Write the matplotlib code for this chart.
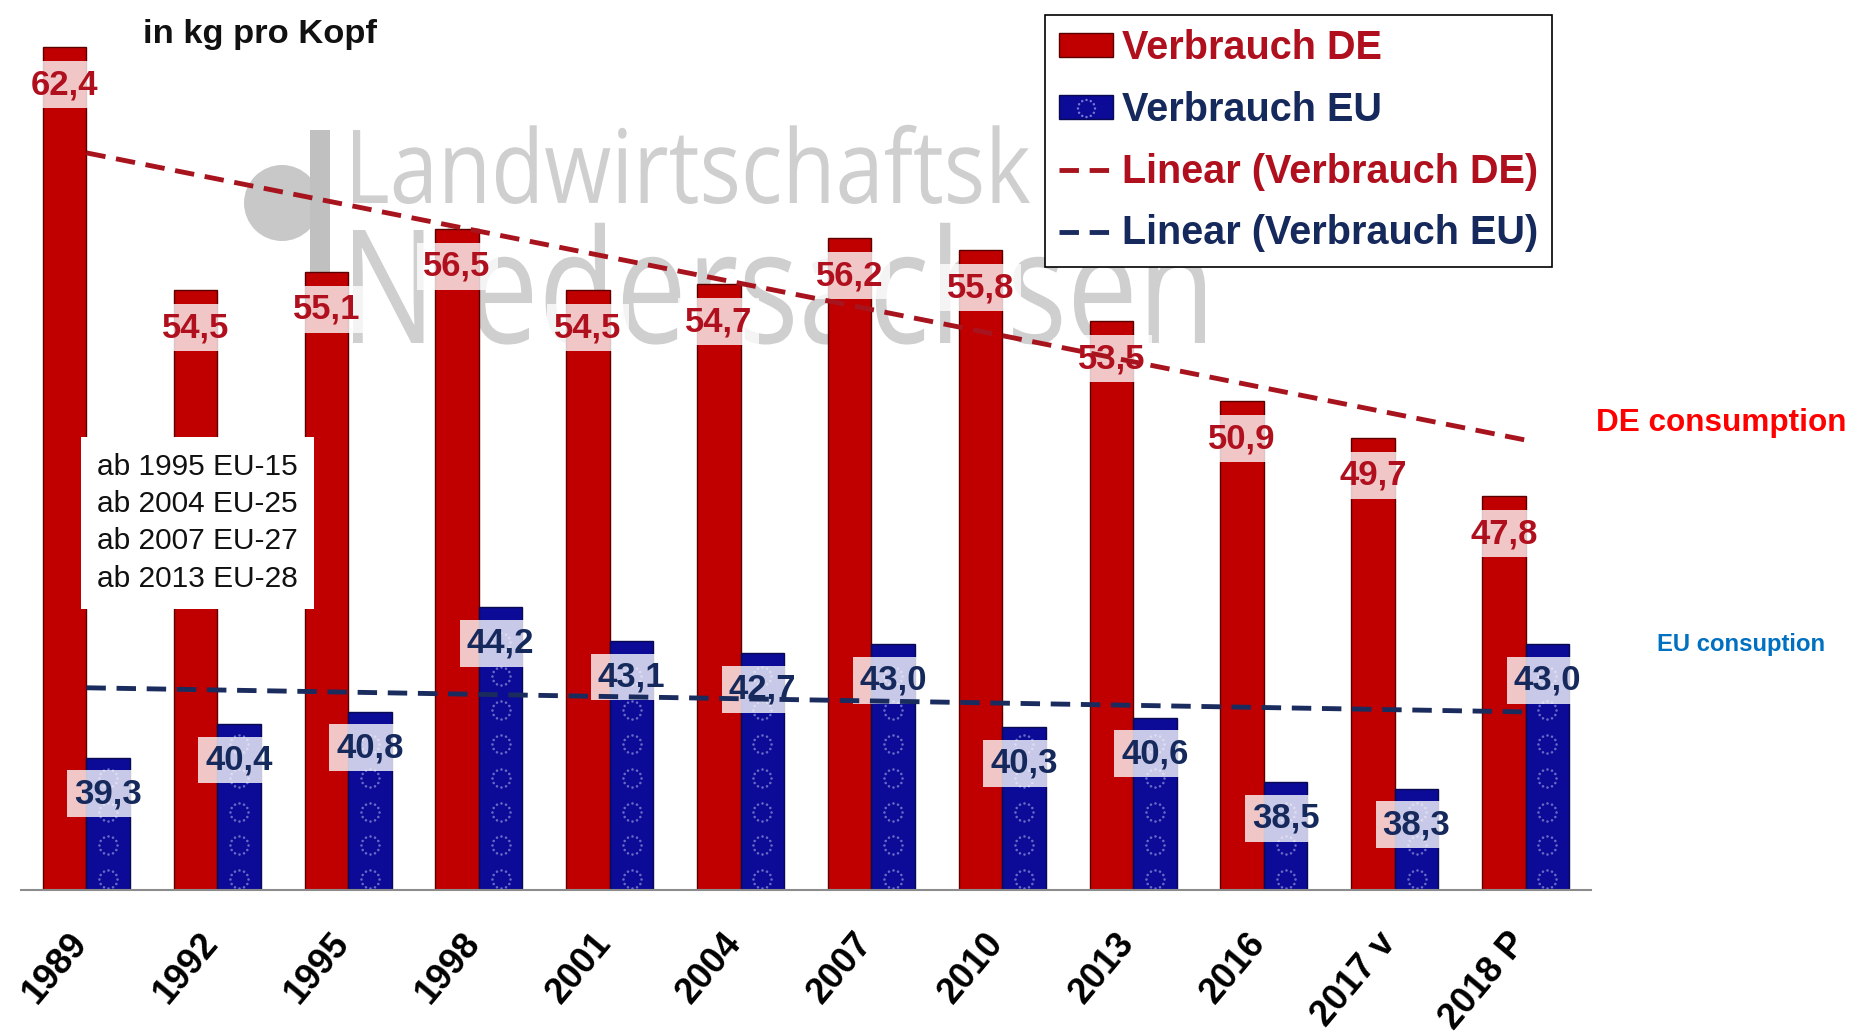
import numpy as np
import matplotlib
matplotlib.use('Agg')
import matplotlib.pyplot as plt
import matplotlib.path as mpath
import matplotlib.patches as mpatches
from matplotlib.lines import Line2D
from matplotlib.textpath import TextPath
from matplotlib.font_manager import FontProperties
from matplotlib.transforms import Affine2D

# data (kg per head)
years = ['1989', '1992', '1995', '1998', '2001', '2004', '2007', '2010',
         '2013', '2016', '2017 v', '2018 P']
de_kg = [62.4, 54.5, 55.1, 56.5, 54.5, 54.7, 56.2, 55.8, 53.5, 50.9, 49.7, 47.8]
eu_kg = [39.3, 40.4, 40.8, 44.2, 43.1, 42.7, 43.0, 40.3, 40.6, 38.5, 38.3, 43.0]
eu_steps = ['ab 1995 EU-15', 'ab 2004 EU-25', 'ab 2007 EU-27', 'ab 2013 EU-28']
legend_labels = ['Verbrauch DE', 'Verbrauch EU',
                 'Linear (Verbrauch DE)', 'Linear (Verbrauch EU)']

DE_BAR = '#c00000'
EU_BAR = '#0b0b98'
DE_TXT = '#b0101e'
EU_TXT = '#16295c'
DE_TREND = '#a8141e'
EU_TREND = '#1a2b5e'
WM_GREY = '#cfcfcf'

plt.rcParams['font.family'] = ['Liberation Sans', 'DejaVu Sans']

W, H = 1852, 1034
fig = plt.figure(figsize=(W / 100, H / 100), dpi=100)
ax = fig.add_axes([21 / W, 144 / H, 1570 / W, 890 / H])

# watermark logo (pixel placement, drawn behind the bars)
wm_prop = FontProperties(family=['Open Sans', 'DejaVu Sans'], weight='normal')


def watermark(txt, left, base, width, cap):
    path = TextPath((0, 0), txt, size=100, prop=wm_prop)
    ext = path.get_extents()
    cap_h = TextPath((0, 0), txt[0], size=100, prop=wm_prop).get_extents().height
    tr = (Affine2D().translate(-ext.x0, 0)
          .scale(width / ext.width, cap / cap_h)
          .translate(left, H - base))
    ax.add_patch(mpatches.PathPatch(path, transform=tr, fc=WM_GREY, ec='none',
                                    zorder=0.5, clip_on=False))


# the rest of the first word is hidden behind the legend box
watermark('Landwirtschaftsk', 353, 203, 677, 73)
watermark('Niedersachsen', 353, 343, 852, 113)
ax.add_patch(mpatches.Circle((282, H - 203), 38, transform=Affine2D(), fc='#c8c8c8',
                             ec='none', zorder=0.5, clip_on=False))
ax.add_patch(mpatches.Rectangle((310, H - 278), 20, 148, transform=Affine2D(),
                                fc='#c0c0c0', ec='none', zorder=0.5, clip_on=False))

x = np.arange(len(years))
w = 0.333

ax.bar(x - w / 2, de_kg, w, color=DE_BAR, edgecolor='#5a0000', linewidth=1, zorder=2)
ax.bar(x + w / 2, eu_kg, w, color=EU_BAR, edgecolor='#0a0a50', linewidth=1, zorder=2)

# ring of 12 dots, like the EU flag, as fill pattern of the EU bars
ang = np.linspace(0, 2 * np.pi, 12, endpoint=False)
ring = mpath.Path.make_compound_path(
    *[mpath.Path.circle((np.cos(a), np.sin(a)), 0.14) for a in ang])
for xi, v in zip(x, eu_kg):
    ys = np.arange(35.35, v - 0.3, 1.1)
    ax.scatter(np.full(len(ys), xi + w / 2), ys, marker=ring, s=220,
               c='#6a6ac4', linewidths=0, zorder=2.5)

# value labels
box_kw = dict(boxstyle='square,pad=0.2', fc='white', ec='none', alpha=0.78)
for xi, v in zip(x, de_kg):
    ax.annotate(f'{v:.1f}'.replace('.', ','), (xi - w / 2, v), xytext=(0, -27),
                textcoords='offset points', ha='center', va='center', fontsize=25,
                fontweight='bold', color=DE_TXT, bbox=box_kw, zorder=4)
for xi, v in zip(x, eu_kg):
    ax.annotate(f'{v:.1f}'.replace('.', ','), (xi + w / 2, v), xytext=(0, -26),
                textcoords='offset points', ha='center', va='center', fontsize=25,
                fontweight='bold', color=EU_TXT, bbox=box_kw, zorder=4)

# linear trend lines
for vals, col in ((de_kg, DE_TREND), (eu_kg, EU_TREND)):
    k, b = np.polyfit(x, vals, 1)
    ends = x[[0, -1]]
    ax.plot(ends, k * ends + b, ls=(0, (4, 2.2)), lw=3.5, color=col, zorder=5)

ax.text(0.85, 46.94, '\n'.join(eu_steps), ha='center', va='center', fontsize=21.5,
        color='#111111', linespacing=1.42,
        bbox=dict(boxstyle='square,pad=0.55', fc='white', ec='none'), zorder=3)

ax.set_xlim(-0.5, 11.5)
ax.set_ylim(35, 63.94)
# labels sit a little left of the group centre, as in the original
ax.set_xticks(x - 0.14)
ax.set_xticklabels(years, rotation=50, ha='right', va='top', rotation_mode='anchor',
                   fontsize=26, fontweight='bold')
ax.tick_params(axis='x', length=0, pad=26)
ax.tick_params(axis='y', left=False, labelleft=False)
for s in ['top', 'right', 'left']:
    ax.spines[s].set_visible(False)
ax.spines['bottom'].set_color('#8c8c8c')
ax.spines['bottom'].set_linewidth(1.5)

# legend
h_de = mpatches.Patch(facecolor=DE_BAR, edgecolor='#5a0000', linewidth=1)
h_eu = (mpatches.Patch(facecolor=EU_BAR, edgecolor='#0a0a50', linewidth=1),
        Line2D([], [], ls='none', marker=ring, markersize=14, color='#7a7ad0',
               markeredgewidth=0))
h_de_tr = Line2D([], [], ls=(0, (4, 2.2)), lw=3.5, color=DE_TREND)
h_eu_tr = Line2D([], [], ls=(0, (4, 2.2)), lw=3.5, color=EU_TREND)
leg = ax.legend([h_de, h_eu, h_de_tr, h_eu_tr], legend_labels, loc='upper left',
                bbox_to_anchor=(1045 / W, 1 - 15 / H), bbox_transform=fig.transFigure,
                prop=FontProperties(family=['Liberation Sans', 'DejaVu Sans'],
                                    weight='bold', size=28.5),
                frameon=True, fancybox=False, edgecolor='black', framealpha=1,
                borderpad=0.36, labelspacing=0.6, handlelength=1.36,
                handleheight=0.55, handletextpad=0.22, borderaxespad=0)
leg.get_frame().set_linewidth(1.2)
leg.set_zorder(6)
for t, c in zip(leg.get_texts(), [DE_TXT, EU_TXT, DE_TXT, EU_TXT]):
    t.set_color(c)

fig.text(143 / W, 1 - 43 / H, 'in kg pro Kopf', fontsize=24.8, fontweight='bold',
         color='#111111', va='baseline')
fig.text(1721 / W, 1 - 423 / H, 'DE consumption', fontsize=22.7, fontweight='bold',
         color='#ff0000', ha='center', va='center')
fig.text(1741 / W, 1 - 645 / H, 'EU consuption', fontsize=17.2, fontweight='bold',
         color='#0070c0', ha='center', va='center')

fig.savefig('out.png', dpi=100)
